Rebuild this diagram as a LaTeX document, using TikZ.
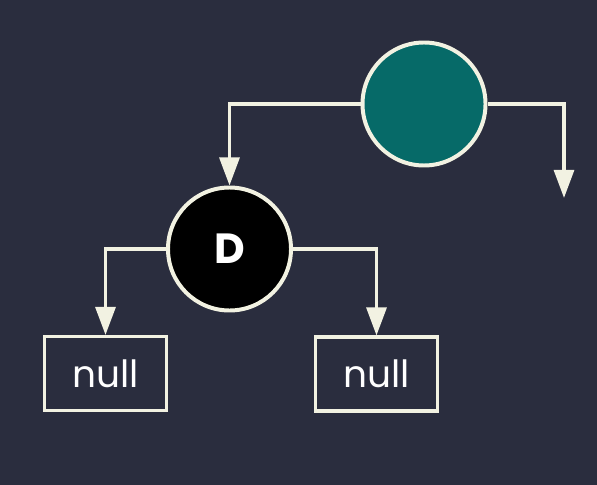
\documentclass[tikz,border=0pt]{standalone}
\usepackage{fontspec}
\setmainfont{Poppins}
\usetikzlibrary{arrows.meta,positioning}
\definecolor{bgnavy}{RGB}{42,45,62}
\definecolor{nodeteal}{RGB}{6,106,104}
\definecolor{linecream}{RGB}{242,242,226}

\begin{document}
\begin{tikzpicture}[x=0.03cm,y=-0.03cm,
  treenode/.style={circle,draw=linecream,line width=3.4pt,minimum size=3.69cm,inner sep=0pt,text=white,font=\fontsize{36}{40}\selectfont\bfseries},
  nullbox/.style={rectangle,draw=linecream,line width=2.6pt,minimum width=3.66cm,minimum height=2.22cm,inner sep=0pt,text=white,font=\fontsize{32}{36}\selectfont},
  link/.style={draw=linecream,line width=3pt,-{Triangle[length=24pt,width=17pt]}}]
  \fill[bgnavy] (0,0) rectangle (597,485);
  \useasboundingbox (0,0) rectangle (597,485);
  \node[treenode,fill=nodeteal] (top) at (424,104) {};
  \node[treenode,fill=black] (d) at (229.5,249) {D};
  \node[nullbox] (lnull) at (105.5,373.5) {null};
  \node[nullbox] (rnull) at (376.5,374) {null};
  \coordinate (rfree) at (564,198);
  \draw[link] (top.west) -| (d.north);
  \draw[link] (top.east) -| (rfree);
  \draw[link] (d.west) -| (lnull.north);
  \draw[link] (d.east) -| (rnull.north);
\end{tikzpicture}
\end{document}
